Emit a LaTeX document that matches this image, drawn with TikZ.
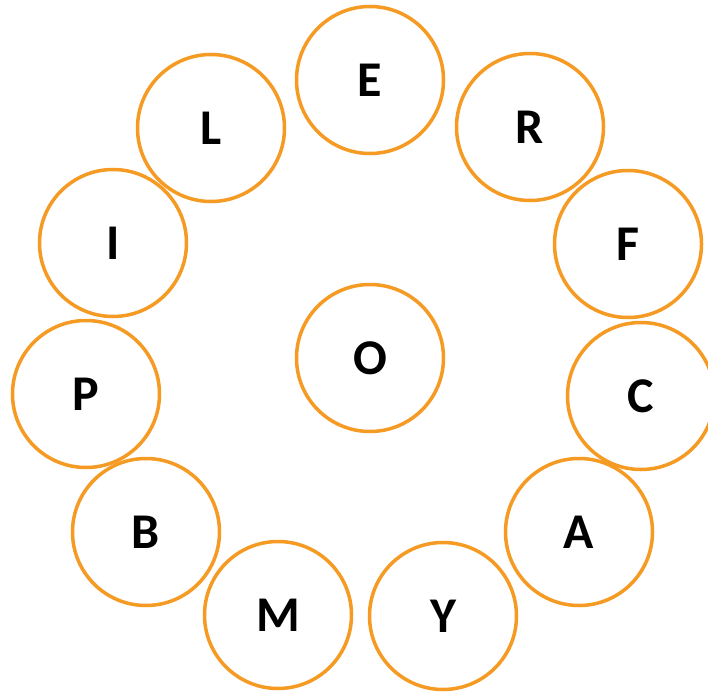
\documentclass[tikz,border=0pt]{standalone}
\usepackage{fontspec}
\setmainfont{Carlito}
\definecolor{ringorange}{RGB}{245,154,35}
\begin{document}
\begin{tikzpicture}[x=1pt,y=-1pt,
  ring/.style={circle,draw=ringorange,line width=3.5pt,minimum size=147pt,inner sep=0pt,
    font=\fontsize{50}{52}\selectfont\bfseries,text=black}]
\clip (0,0) rectangle (708,695);
\useasboundingbox (0,0) rectangle (708,695);
\node[ring] (E) at (370,80) {E};
\node[ring] (R) at (530,127) {R};
\node[ring] (L) at (211,128) {L};
\node[ring] (I) at (113,243) {I};
\node[ring] (F) at (628,244) {F};
\node[ring] (O) at (370,358) {O};
\node[ring] (P) at (86,394) {P};
\node[ring] (C) at (641,396) {C};
\node[ring] (B) at (146,532) {B};
\node[ring] (A) at (579,532) {A};
\node[ring] (M) at (278,615) {M};
\node[ring] (Y) at (443,616) {Y};
\end{tikzpicture}
\end{document}
